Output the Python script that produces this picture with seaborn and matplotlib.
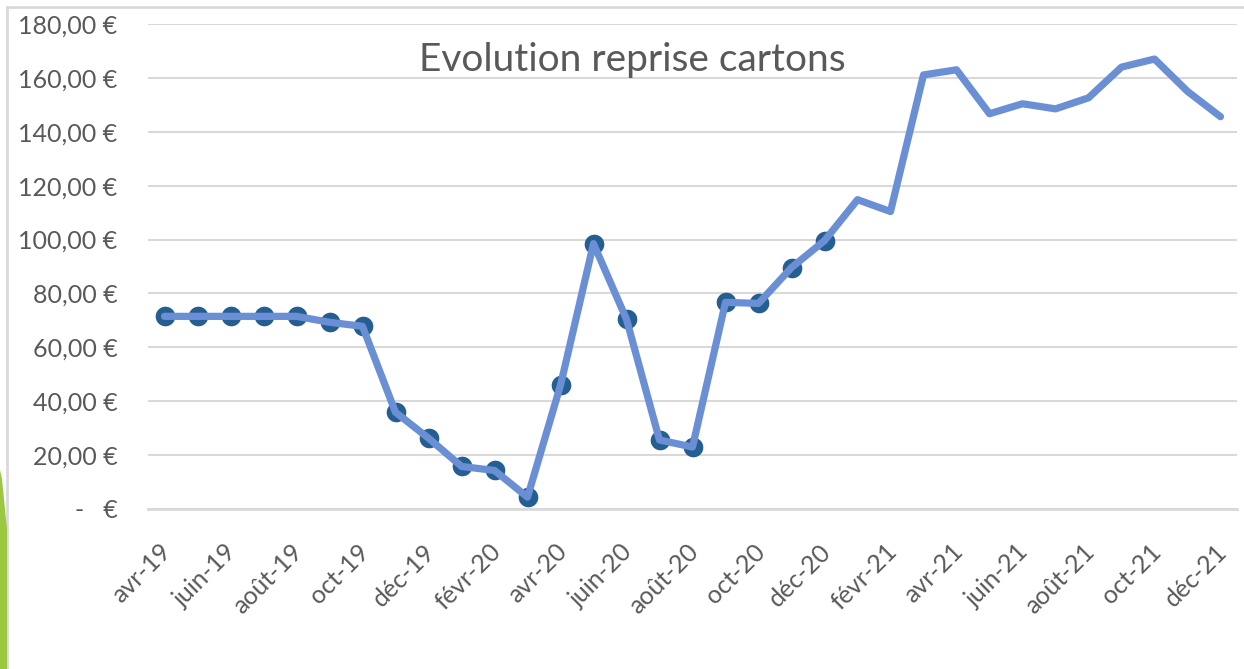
import matplotlib
matplotlib.use('Agg')
import matplotlib.pyplot as plt
import matplotlib.transforms as mtransforms
from matplotlib.patches import Rectangle, Polygon
import pandas as pd
import seaborn as sns

# Monthly values, avr-19 .. déc-21
months = ['avr-19', 'mai-19', 'juin-19', 'juil-19', 'août-19', 'sept-19', 'oct-19',
          'nov-19', 'déc-19', 'janv-20', 'févr-20', 'mars-20', 'avr-20', 'mai-20',
          'juin-20', 'juil-20', 'août-20', 'sept-20', 'oct-20', 'nov-20', 'déc-20',
          'janv-21', 'févr-21', 'mars-21', 'avr-21', 'mai-21', 'juin-21', 'juil-21',
          'août-21', 'sept-21', 'oct-21', 'nov-21', 'déc-21']
prices = [71.5, 71.5, 71.5, 71.5, 71.5, 69.3, 67.8,
          35.9, 26.3, 15.8, 14.3, 4.4, 45.9, 98.5,
          70.4, 25.6, 23.0, 76.7, 76.3, 89.6, 99.6,
          114.8, 110.4, 161.1, 163.0, 146.7, 150.4, 148.5,
          152.6, 164.0, 167.0, 155.0, 145.6]
n_markers = 21  # points with markers: avr-19 .. déc-20
tick_labels = ['avr-19', 'juin-19', 'août-19', 'oct-19', 'déc-19', 'févr-20', 'avr-20',
               'juin-20', 'août-20', 'oct-20', 'déc-20', 'févr-21', 'avr-21', 'juin-21',
               'août-21', 'oct-21', 'déc-21']

df = pd.DataFrame({'mois': months, 'prix': prices})
df['x'] = [i + 0.5 for i in range(len(df))]  # centre of each month

sns.set_style('white')
plt.rcParams['font.family'] = ['Lato', 'DejaVu Sans']

grey_text = '#595959'
grid_col = '#d9d9d9'

fig = plt.figure(figsize=(12.44, 6.69), dpi=100)
ax = fig.add_axes([148 / 1244, 1 - 509 / 669, (1237 - 148) / 1244, (509 - 24) / 669])

# markers first, the line sits on top of them
sns.scatterplot(data=df.iloc[:n_markers], x='x', y='prix', ax=ax, s=200,
                color='#255e91', edgecolor='#255e91', linewidth=0, zorder=3, legend=False)
sns.lineplot(data=df, x='x', y='prix', ax=ax, color='#6a8fd4', linewidth=5.2,
             zorder=4, legend=False)

ax.set_xlim(0, len(months))
ax.set_ylim(0, 180)
ax.set_yticks(range(0, 181, 20))
ax.set_yticklabels(['-   €' if v == 0 else f'{v},00 €' for v in range(0, 181, 20)])
ax.set_xticks(range(0, len(months) + 1, 2)[:len(tick_labels)])
ax.set_xticklabels(tick_labels, rotation=45, ha='right', va='center', rotation_mode='anchor')

ax.grid(axis='y', color=grid_col, linewidth=1.5, zorder=0)
ax.set_axisbelow(True)
for side in ['left', 'right', 'top']:
    ax.spines[side].set_visible(False)
ax.spines['bottom'].set_color(grid_col)
ax.spines['bottom'].set_linewidth(2)
ax.tick_params(axis='x', colors=grey_text, labelsize=18, length=5, width=1.5,
               color=grid_col, pad=23, direction='out')
ax.tick_params(axis='y', colors=grey_text, labelsize=18, length=0, pad=22)
ax.set_xlabel('')
ax.set_ylabel('')

# shift rotated labels to the right a little
offset = mtransforms.ScaledTranslation(19 / 100, 0, fig.dpi_scale_trans)
for lab in ax.get_xticklabels():
    lab.set_transform(lab.get_transform() + offset)

fig.text(632 / 1244, 1 - 60 / 669, 'Evolution reprise cartons', ha='center', va='center',
         fontsize=28, color=grey_text)

# chart frame and slide decoration
fig.patches.append(Rectangle((7 / 1244, -0.1), 1.2, 1.1 - 7 / 669, transform=fig.transFigure,
                             fill=False, edgecolor=grid_col, linewidth=2))
fig.patches.append(Polygon([(0, 0), (0, 199 / 669), (2 / 1244, 190 / 669),
                            (7 / 1244, 140 / 669), (7 / 1244, 0)],
                           closed=True, transform=fig.transFigure,
                           facecolor='#9ac93f', edgecolor='none'))

fig.savefig('out.png', dpi=100)
